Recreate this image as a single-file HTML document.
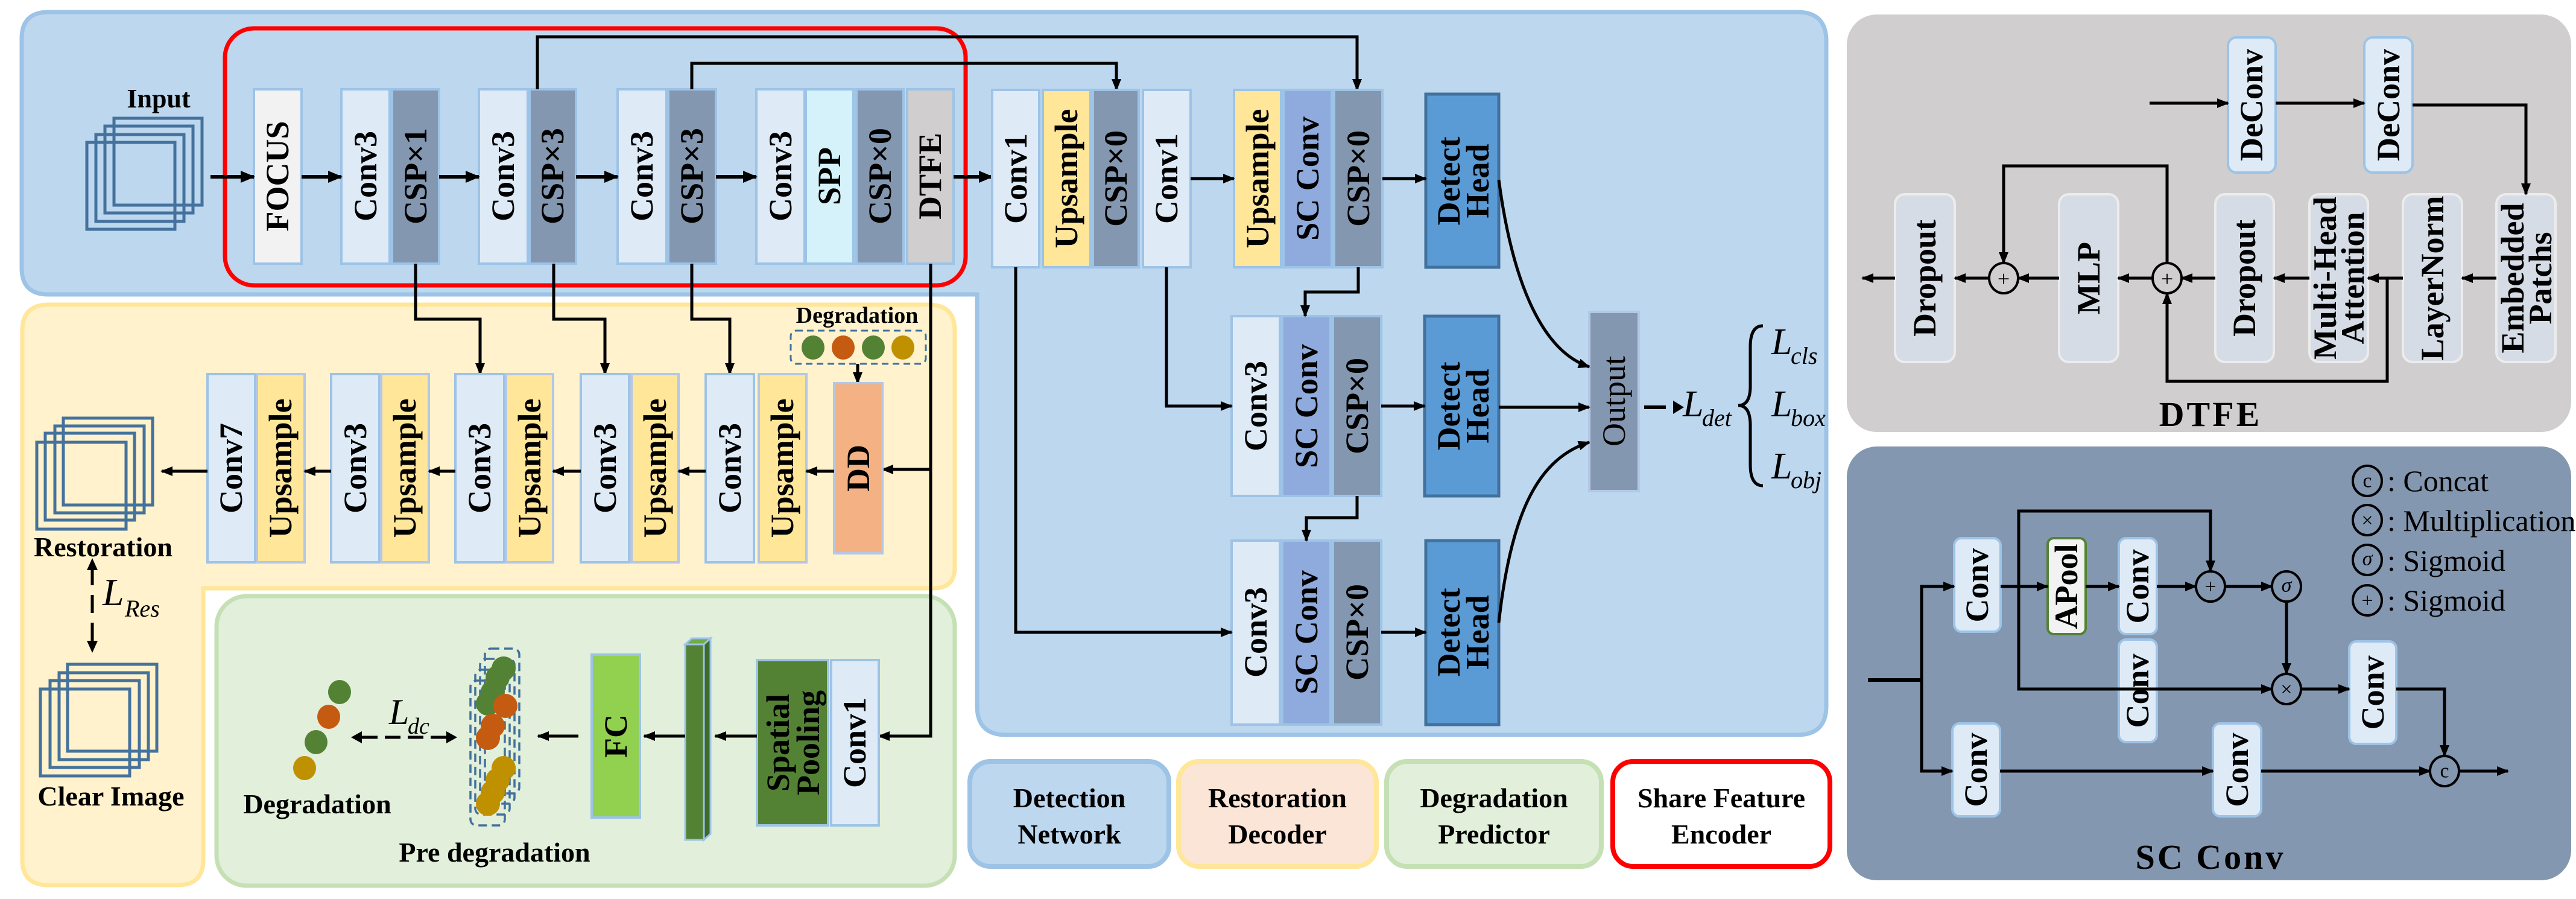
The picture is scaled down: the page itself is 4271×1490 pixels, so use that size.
<!DOCTYPE html>
<html><head><meta charset="utf-8"><style>
html,body{margin:0;padding:0;background:#fff}
svg{display:block}
text{font-family:"Liberation Serif",serif}
.b{font-weight:bold}
.v{font-weight:bold;font-size:54px;text-anchor:middle;dominant-baseline:central}
.s{font-size:44px;text-anchor:middle;dominant-baseline:central;font-weight:bold}
.lab{font-weight:bold;font-size:46px;text-anchor:middle}
</style></head><body>
<svg width="4271" height="1490" viewBox="0 0 4271 1490" xmlns="http://www.w3.org/2000/svg" font-family="Liberation Serif, serif">
<defs>
<marker id="a" markerUnits="userSpaceOnUse" markerWidth="24" markerHeight="24" refX="22" refY="12" orient="auto"><path d="M0,2 L24,12 L0,22 Z" fill="#000"/></marker>
<marker id="as" markerUnits="userSpaceOnUse" markerWidth="20" markerHeight="20" refX="18" refY="10" orient="auto"><path d="M0,2 L20,10 L0,18 Z" fill="#000"/></marker>
</defs>

<!-- Detection panel -->
<path d="M80,20 H2980 Q3028,20 3028,68 V1170 Q3028,1218 2980,1218 H1668 Q1620,1218 1620,1170 V488 H80 Q36,488 36,444 V64 Q36,20 80,20 Z" fill="#bdd7ee" stroke="#9dc3e6" stroke-width="7"/>
<path d="M80,505 H1540 Q1583,505 1583,548 V940 Q1583,975 1548,975 H337 V1425 Q337,1467 295,1467 H80 Q37,1467 37,1425 V548 Q37,505 80,505 Z" fill="#fff2cc" stroke="#ffe699" stroke-width="7"/>
<rect x="359" y="988" width="1224" height="480" rx="50" fill="#e2efda" stroke="#c5e0b4" stroke-width="7"/>
<rect x="373" y="47" width="1228" height="426" rx="48" fill="none" stroke="#ff0000" stroke-width="7"/>

<g fill="none" stroke="#44729d" stroke-width="5">
<rect x="189" y="196" width="146" height="144"/><rect x="174" y="209" width="146" height="144"/><rect x="159" y="223" width="146" height="144"/><rect x="144" y="236" width="146" height="144"/>
</g>
<text x="263" y="178" class="b" font-size="44" text-anchor="middle">Input</text>

<g stroke="#9dc3e6" stroke-width="4">
<rect x="421" y="148" width="79" height="289" fill="#f2f2f2"/>
<rect x="566" y="148" width="80" height="289" fill="#deebf7"/><rect x="650" y="148" width="78" height="289" fill="#8497b0"/>
<rect x="794" y="148" width="81" height="289" fill="#deebf7"/><rect x="878" y="148" width="77" height="289" fill="#8497b0"/>
<rect x="1024" y="148" width="81" height="289" fill="#deebf7"/><rect x="1108" y="148" width="79" height="289" fill="#8497b0"/>
<rect x="1254" y="148" width="80" height="289" fill="#deebf7"/><rect x="1336" y="148" width="79" height="289" fill="#d5f2fa"/><rect x="1420" y="148" width="78" height="289" fill="#8497b0"/><rect x="1504" y="148" width="77" height="289" fill="#d0cece"/>
</g>
<text class="v" transform="translate(460,292) rotate(-90)">FOCUS</text>
<text class="v" transform="translate(606,292) rotate(-90)">Conv3</text>
<text class="v" transform="translate(689,292) rotate(-90)">CSP×1</text>
<text class="v" transform="translate(834,292) rotate(-90)">Conv3</text>
<text class="v" transform="translate(916,292) rotate(-90)">CSP×3</text>
<text class="v" transform="translate(1064,292) rotate(-90)">Conv3</text>
<text class="v" transform="translate(1147,292) rotate(-90)">CSP×3</text>
<text class="v" transform="translate(1294,292) rotate(-90)">Conv3</text>
<text class="v" transform="translate(1375,292) rotate(-90)">SPP</text>
<text class="v" transform="translate(1459,292) rotate(-90)">CSP×0</text>
<text class="v" transform="translate(1542,292) rotate(-90)">DTFE</text>
<g stroke="#000" stroke-width="6" marker-end="url(#a)">
<line x1="349" y1="293" x2="421" y2="293"/><line x1="500" y1="293" x2="566" y2="293"/><line x1="728" y1="293" x2="794" y2="293"/><line x1="955" y1="293" x2="1024" y2="293"/><line x1="1187" y1="293" x2="1254" y2="293"/><line x1="1581" y1="293" x2="1645" y2="293"/>
</g>
<g fill="none" stroke="#000" stroke-width="5" marker-end="url(#as)">
<path d="M891,148 V61 H2250 V149"/>
<path d="M1147,148 V105 H1851 V149"/>
<path d="M689,437 V529 H796 V620"/>
<path d="M918,437 V529 H1003 V620"/>
<path d="M1147,437 V529 H1210 V620"/>
<path d="M1543,437 V1220 H1457"/>
<path d="M1543,778 H1463"/>
<path d="M1422,603 V635"/>
</g>

<g stroke="#9dc3e6" stroke-width="4">
<rect x="1645" y="149" width="78" height="294" fill="#deebf7"/><rect x="1729" y="149" width="79" height="294" fill="#ffe699"/><rect x="1812" y="149" width="76" height="294" fill="#8497b0"/><rect x="1895" y="149" width="79" height="294" fill="#deebf7"/>
<rect x="2046" y="149" width="78" height="294" fill="#ffe699"/><rect x="2128" y="149" width="80" height="294" fill="#8faadc"/><rect x="2212" y="149" width="80" height="294" fill="#8497b0"/>
<rect x="2042" y="524" width="80" height="298" fill="#deebf7"/><rect x="2126" y="524" width="80" height="298" fill="#8faadc"/><rect x="2210" y="524" width="80" height="298" fill="#8497b0"/>
<rect x="2042" y="896" width="80" height="305" fill="#deebf7"/><rect x="2126" y="896" width="80" height="305" fill="#8faadc"/><rect x="2210" y="896" width="80" height="305" fill="#8497b0"/>
<rect x="2635" y="517" width="82" height="297" fill="#8497b0" stroke="#b4c7e7"/>
</g>
<g stroke="#41719c" stroke-width="5" fill="#5b9bd5">
<rect x="2364" y="156" width="121" height="287"/><rect x="2362" y="524" width="123" height="298"/><rect x="2364" y="896" width="121" height="305"/>
</g>
<text class="v" transform="translate(1684,296) rotate(-90)">Conv1</text>
<text class="v" transform="translate(1768,296) rotate(-90)">Upsample</text>
<text class="v" transform="translate(1850,296) rotate(-90)">CSP×0</text>
<text class="v" transform="translate(1934,296) rotate(-90)">Conv1</text>
<text class="v" transform="translate(2085,296) rotate(-90)">Upsample</text>
<text class="v" transform="translate(2168,296) rotate(-90)">SC Conv</text>
<text class="v" transform="translate(2252,296) rotate(-90)">CSP×0</text>
<text class="v" transform="translate(2082,673) rotate(-90)">Conv3</text>
<text class="v" transform="translate(2166,673) rotate(-90)">SC Conv</text>
<text class="v" transform="translate(2250,673) rotate(-90)">CSP×0</text>
<text class="v" transform="translate(2082,1048) rotate(-90)">Conv3</text>
<text class="v" transform="translate(2166,1048) rotate(-90)">SC Conv</text>
<text class="v" transform="translate(2250,1048) rotate(-90)">CSP×0</text>
<text class="v" transform="translate(2424,300) rotate(-90)"><tspan x="0" y="-22">Detect</tspan><tspan x="0" y="26">Head</tspan></text>
<text class="v" transform="translate(2424,673) rotate(-90)"><tspan x="0" y="-22">Detect</tspan><tspan x="0" y="26">Head</tspan></text>
<text class="v" transform="translate(2424,1048) rotate(-90)"><tspan x="0" y="-22">Detect</tspan><tspan x="0" y="26">Head</tspan></text>
<text transform="translate(2676,665) rotate(-90)" font-size="54" text-anchor="middle" dominant-baseline="central">Output</text>
<g fill="none" stroke="#000" stroke-width="5" marker-end="url(#as)">
<path d="M1974,296 H2046"/><path d="M2292,296 H2364"/><path d="M2290,673 H2362"/><path d="M2290,1048 H2364"/>
<path d="M2252,443 V484 H2164 V524"/><path d="M2250,822 V858 H2166 V896"/>
<path d="M1934,443 V673 H2042"/><path d="M1684,443 V1048 H2042"/>
<path d="M2485,298 C2505,450 2550,580 2635,608"/>
<path d="M2485,675 H2635"/>
<path d="M2485,1032 C2505,850 2550,760 2635,733"/>
</g>
<path d="M2726,675 H2762" stroke="#000" stroke-width="6"/>
<path d="M2774,664 L2792,675 L2774,686 Z" fill="#000"/>
<text x="2790" y="690" font-size="62" font-style="italic">L</text><text x="2822" y="706" font-size="40" font-style="italic">det</text>
<path d="M2923,540 Q2902,540 2902,575 V640 Q2902,672 2882,672 Q2902,672 2902,705 V770 Q2902,805 2923,805" fill="none" stroke="#000" stroke-width="5"/>
<text x="2937" y="587" font-size="62" font-style="italic">L</text><text x="2969" y="603" font-size="40" font-style="italic">cls</text>
<text x="2937" y="690" font-size="62" font-style="italic">L</text><text x="2969" y="706" font-size="40" font-style="italic">box</text>
<text x="2937" y="793" font-size="62" font-style="italic">L</text><text x="2969" y="809" font-size="40" font-style="italic">obj</text>

<g stroke="#9dc3e6" stroke-width="4">
<rect x="344" y="620" width="79" height="312" fill="#deebf7"/><rect x="426" y="620" width="79" height="312" fill="#ffe699" stroke="#b4c7e7"/>
<rect x="549" y="620" width="80" height="312" fill="#deebf7"/><rect x="632" y="620" width="79" height="312" fill="#ffe699" stroke="#b4c7e7"/>
<rect x="755" y="620" width="81" height="312" fill="#deebf7"/><rect x="839" y="620" width="78" height="312" fill="#ffe699" stroke="#b4c7e7"/>
<rect x="963" y="620" width="80" height="312" fill="#deebf7"/><rect x="1047" y="620" width="78" height="312" fill="#ffe699" stroke="#b4c7e7"/>
<rect x="1170" y="620" width="80" height="312" fill="#deebf7"/><rect x="1258" y="620" width="79" height="312" fill="#ffe699" stroke="#b4c7e7"/>
<rect x="1383" y="635" width="80" height="282" fill="#f4b183" stroke="#b4c7e7"/>
</g>
<text class="v" transform="translate(383,776) rotate(-90)">Conv7</text>
<text class="v" transform="translate(465,776) rotate(-90)">Upsample</text>
<text class="v" transform="translate(589,776) rotate(-90)">Conv3</text>
<text class="v" transform="translate(671,776) rotate(-90)">Upsample</text>
<text class="v" transform="translate(795,776) rotate(-90)">Conv3</text>
<text class="v" transform="translate(878,776) rotate(-90)">Upsample</text>
<text class="v" transform="translate(1003,776) rotate(-90)">Conv3</text>
<text class="v" transform="translate(1086,776) rotate(-90)">Upsample</text>
<text class="v" transform="translate(1210,776) rotate(-90)">Conv3</text>
<text class="v" transform="translate(1297,776) rotate(-90)">Upsample</text>
<text class="v" transform="translate(1423,776) rotate(-90)">DD</text>
<g stroke="#000" stroke-width="5" marker-end="url(#as)">
<line x1="1383" y1="781" x2="1337" y2="781"/><line x1="1170" y1="781" x2="1125" y2="781"/><line x1="963" y1="781" x2="917" y2="781"/><line x1="755" y1="781" x2="711" y2="781"/><line x1="549" y1="781" x2="505" y2="781"/><line x1="344" y1="781" x2="268" y2="781"/>
</g>
<g fill="none" stroke="#44729d" stroke-width="5">
<rect x="105" y="693" width="148" height="144"/><rect x="91" y="706" width="148" height="144"/><rect x="75" y="718" width="148" height="144"/><rect x="61" y="733" width="148" height="144"/>
<rect x="112" y="1101" width="148" height="144"/><rect x="98" y="1115" width="148" height="144"/><rect x="83" y="1128" width="148" height="144"/><rect x="67" y="1142" width="148" height="144"/>
</g>
<text x="171" y="922" class="lab">Restoration</text>
<text x="184" y="1335" class="lab" font-size="48">Clear Image</text>
<line x1="153" y1="940" x2="153" y2="1066" stroke="#000" stroke-width="5" stroke-dasharray="30 16"/>
<path d="M144,945 L153,925 L162,945 Z M144,1062 L153,1082 L162,1062 Z" fill="#000"/>
<text x="170" y="1003" font-size="64" font-style="italic">L</text><text x="207" y="1022" font-size="40" font-style="italic">Res</text>

<text x="1421" y="535" class="b" font-size="38" text-anchor="middle">Degradation</text>
<rect x="1311" y="548" width="224" height="55" rx="9" fill="none" stroke="#41719c" stroke-width="3" stroke-dasharray="11 7"/>
<ellipse cx="1348" cy="576" rx="19" ry="20" fill="#548235"/><ellipse cx="1398" cy="576" rx="19" ry="20" fill="#c55a11"/><ellipse cx="1448" cy="576" rx="19" ry="20" fill="#548235"/><ellipse cx="1497" cy="576" rx="19" ry="20" fill="#bf9000"/>

<rect x="1378" y="1094" width="79" height="274" fill="#deebf7" stroke="#9dc3e6" stroke-width="4"/>
<rect x="1255" y="1094" width="118" height="274" fill="#548235" stroke="#9dc3e6" stroke-width="4"/>
<text class="v" transform="translate(1417,1231) rotate(-90)">Conv1</text>
<text class="v" transform="translate(1314,1231) rotate(-90)" font-size="50"><tspan x="0" y="-24">Spatial</tspan><tspan x="0" y="26">Pooling</tspan></text>
<path d="M1136,1068 L1147,1058 L1178,1058 L1167,1068 Z" fill="#70ad47" stroke="#9dc3e6" stroke-width="3"/>
<path d="M1167,1068 L1178,1058 L1178,1382 L1167,1392 Z" fill="#3e6b27" stroke="#9dc3e6" stroke-width="3"/>
<rect x="1136" y="1068" width="31" height="324" fill="#548235" stroke="#9dc3e6" stroke-width="3"/>
<rect x="981" y="1085" width="80" height="270" fill="#92d050" stroke="#9dc3e6" stroke-width="4"/>
<text class="v" transform="translate(1021,1220) rotate(-90)">FC</text>
<g stroke="#000" stroke-width="5" marker-end="url(#as)">
<line x1="1255" y1="1220" x2="1186" y2="1220"/><line x1="1136" y1="1220" x2="1068" y2="1220"/><line x1="959" y1="1220" x2="892" y2="1220"/>
</g>
<g fill="none" stroke="#41719c" stroke-width="3.5" stroke-dasharray="14 8">
<rect x="804" y="1075" width="57" height="240" rx="10"/><rect x="796" y="1092" width="57" height="240" rx="10"/><rect x="788" y="1110" width="57" height="240" rx="10"/><rect x="780" y="1128" width="57" height="240" rx="10"/>
</g>
<g>
<circle cx="835" cy="1108" r="20" fill="#548235"/><circle cx="825" cy="1123" r="20" fill="#548235"/><circle cx="817" cy="1147" r="20" fill="#548235"/><circle cx="809" cy="1166" r="20" fill="#548235"/>
<circle cx="838" cy="1170" r="20" fill="#c55a11"/><circle cx="817" cy="1203" r="20" fill="#c55a11"/><circle cx="809" cy="1223" r="20" fill="#c55a11"/>
<circle cx="835" cy="1273" r="20" fill="#bf9000"/><circle cx="825" cy="1293" r="20" fill="#bf9000"/><circle cx="817" cy="1313" r="20" fill="#bf9000"/><circle cx="809" cy="1332" r="20" fill="#bf9000"/>
</g>
<text x="820" y="1428" class="lab" font-size="48">Pre degradation</text>
<line x1="600" y1="1222" x2="740" y2="1222" stroke="#000" stroke-width="5" stroke-dasharray="26 12"/>
<path d="M600,1212 L582,1222 L600,1232 Z M740,1212 L758,1222 L740,1232 Z" fill="#000"/>
<text x="645" y="1200" font-size="60" font-style="italic">L</text><text x="676" y="1216" font-size="38" font-style="italic">dc</text>
<ellipse cx="563" cy="1147" rx="19" ry="20" fill="#548235"/><ellipse cx="545" cy="1188" rx="19" ry="20" fill="#c55a11"/><ellipse cx="524" cy="1230" rx="19" ry="20" fill="#548235"/><ellipse cx="505" cy="1273" rx="19" ry="20" fill="#bf9000"/>
<text x="526" y="1348" class="lab" font-size="48">Degradation</text>

<rect x="1608" y="1262" width="330" height="174" rx="34" fill="#bdd7ee" stroke="#9dc3e6" stroke-width="8"/>
<rect x="1954" y="1262" width="328" height="174" rx="34" fill="#fbe5d6" stroke="#ffe699" stroke-width="8"/>
<rect x="2299" y="1262" width="356" height="174" rx="34" fill="#e2efda" stroke="#c5e0b4" stroke-width="8"/>
<rect x="2674" y="1262" width="360" height="174" rx="34" fill="#fff" stroke="#ff0000" stroke-width="8"/>
<text x="1773" y="1338" class="lab" font-size="48">Detection</text><text x="1773" y="1398" class="lab" font-size="48">Network</text>
<text x="2118" y="1338" class="lab" font-size="48">Restoration</text><text x="2118" y="1398" class="lab" font-size="48">Decoder</text>
<text x="2477" y="1338" class="lab" font-size="48">Degradation</text><text x="2477" y="1398" class="lab" font-size="48">Predictor</text>
<text x="2854" y="1338" class="lab" font-size="48">Share Feature</text><text x="2854" y="1398" class="lab" font-size="48">Encoder</text>

<rect x="3062" y="24" width="1201" height="692" rx="50" fill="#d0cece"/>
<g stroke="#9dc3e6" stroke-width="4" fill="#deebf7">
<rect x="3694" y="62" width="79" height="224" rx="14"/><rect x="3920" y="62" width="80" height="224" rx="14"/>
</g>
<g stroke="#ececec" stroke-width="4" fill="#d6dce5">
<rect x="3142" y="322" width="99" height="278" rx="16"/><rect x="3414" y="322" width="98" height="278" rx="16"/><rect x="3673" y="322" width="97" height="278" rx="16"/><rect x="3829" y="322" width="97" height="278" rx="16"/><rect x="3984" y="322" width="98" height="278" rx="16"/><rect x="4139" y="322" width="98" height="278" rx="16"/>
</g>
<text class="v" font-size="48" transform="translate(3733,174) rotate(-90)">DeConv</text>
<text class="v" font-size="48" transform="translate(3960,174) rotate(-90)">DeConv</text>
<text class="v" font-size="48" transform="translate(3191,461) rotate(-90)">Dropout</text>
<text class="v" font-size="48" transform="translate(3463,461) rotate(-90)">MLP</text>
<text class="v" font-size="48" transform="translate(3721,461) rotate(-90)">Dropout</text>
<text class="v" font-size="44" transform="translate(3877,461) rotate(-90)"><tspan x="0" y="-22">Multi-Head</tspan><tspan x="0" y="24">Attention</tspan></text>
<text class="v" font-size="48" transform="translate(4033,461) rotate(-90)">LayerNorm</text>
<text class="v" font-size="44" transform="translate(4188,461) rotate(-90)"><tspan x="0" y="-22">Embedded</tspan><tspan x="0" y="24">Patchs</tspan></text>
<g fill="none" stroke="#000" stroke-width="5" marker-end="url(#as)">
<path d="M3564,171 H3694"/><path d="M3773,171 H3920"/><path d="M4000,174 H4188 V322"/>
<path d="M4139,461 H4082"/><path d="M3984,461 H3926"/><path d="M3829,461 H3770"/><path d="M3673,461 H3617"/>
<path d="M3569,461 H3512"/><path d="M3414,461 H3346"/><path d="M3298,461 H3241"/><path d="M3142,461 H3088"/>
<path d="M3593,436 V275 H3322 V436"/>
<path d="M3958,461 V632 H3593 V486"/>
</g>
<g fill="none" stroke="#000" stroke-width="4">
<ellipse cx="3322" cy="461" rx="24" ry="25"/><ellipse cx="3593" cy="461" rx="24" ry="25"/>
</g>
<text x="3322" y="462" font-size="36" text-anchor="middle" dominant-baseline="central">+</text>
<text x="3593" y="462" font-size="36" text-anchor="middle" dominant-baseline="central">+</text>
<text x="3665" y="706" class="b" font-size="58" text-anchor="middle" letter-spacing="4">DTFE</text>

<rect x="3062" y="740" width="1201" height="719" rx="50" fill="#8497b0"/>
<g stroke="#9dc3e6" stroke-width="4" fill="#deebf7">
<rect x="3240" y="892" width="77" height="155" rx="12"/>
<rect x="3513" y="892" width="63" height="159" rx="12"/>
<rect x="3513" y="1060" width="63" height="170" rx="12"/>
<rect x="3895" y="1063" width="78" height="170" rx="12"/>
<rect x="3237" y="1199" width="79" height="154" rx="12"/>
<rect x="3669" y="1199" width="80" height="154" rx="12"/>
</g>
<rect x="3395" y="892" width="63" height="159" rx="10" fill="#f2f2f2" stroke="#548235" stroke-width="4"/>
<text class="v" font-size="46" transform="translate(3278,970) rotate(-90)">Conv</text>
<text class="v" font-size="34" transform="translate(3426,972) rotate(-90)">APool</text>
<text class="v" font-size="46" transform="translate(3544,972) rotate(-90)">Conv</text>
<text class="v" font-size="46" transform="translate(3544,1145) rotate(-90)">Conv</text>
<text class="v" font-size="46" transform="translate(3934,1148) rotate(-90)">Conv</text>
<text class="v" font-size="46" transform="translate(3276,1276) rotate(-90)">Conv</text>
<text class="v" font-size="46" transform="translate(3709,1276) rotate(-90)">Conv</text>
<g fill="none" stroke="#000" stroke-width="5" marker-end="url(#as)">
<path d="M3186,1127 V972 H3240"/><path d="M3186,1127 V1278 H3237"/>
<path d="M3317,972 H3395"/><path d="M3458,972 H3513"/><path d="M3576,972 H3641"/><path d="M3689,972 H3767"/>
<path d="M3347,972 V847 H3665 V947"/>
<path d="M3347,972 V1142 H3767"/>
<path d="M3791,997 V1117"/>
<path d="M3815,1142 H3895"/>
<path d="M3973,1142 H4053 V1253"/>
<path d="M3316,1278 H3669"/><path d="M3749,1278 H4029"/><path d="M4077,1278 H4158"/>
</g>
<path d="M3097,1127 H3186" stroke="#000" stroke-width="6"/>
<g fill="none" stroke="#000" stroke-width="4">
<ellipse cx="3665" cy="972" rx="24" ry="25"/><ellipse cx="3791" cy="972" rx="24" ry="25"/><ellipse cx="3791" cy="1142" rx="24" ry="25"/><ellipse cx="4053" cy="1278" rx="24" ry="25"/>
<ellipse cx="3925" cy="797" rx="24" ry="25"/><ellipse cx="3925" cy="862" rx="24" ry="25"/><ellipse cx="3925" cy="928" rx="24" ry="25"/><ellipse cx="3925" cy="995" rx="24" ry="25"/>
</g>
<g font-size="34" text-anchor="middle" dominant-baseline="central">
<text x="3665" y="973">+</text><text x="3791" y="970" font-style="italic">σ</text><text x="3791" y="1143">×</text><text x="4053" y="1278">c</text>
<text x="3925" y="797">c</text><text x="3925" y="863">×</text><text x="3925" y="926" font-style="italic">σ</text><text x="3925" y="996">+</text>
</g>
<g font-size="50">
<text x="3958" y="814">: Concat</text>
<text x="3958" y="880">: Multiplication</text>
<text x="3958" y="946">: Sigmoid</text>
<text x="3958" y="1012">: Sigmoid</text>
</g>
<text x="3665" y="1440" class="b" font-size="58" text-anchor="middle" letter-spacing="4">SC Conv</text>
</svg>
</body></html>
